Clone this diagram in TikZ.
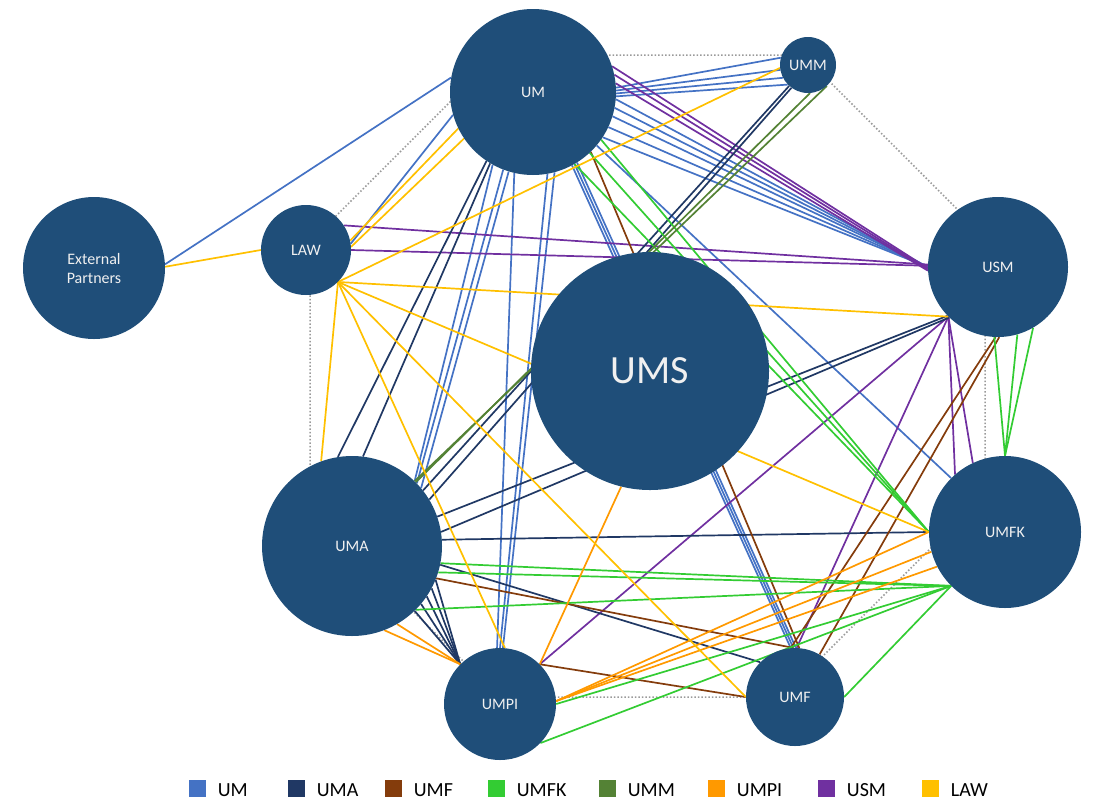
\documentclass[tikz,border=0pt]{standalone}
\usepackage{fontspec}
\setmainfont{Carlito}
\usetikzlibrary{backgrounds}
\definecolor{nodefill}{HTML}{1F4E79}
\definecolor{cUM}{HTML}{4472C4}
\definecolor{cUMA}{HTML}{203864}
\definecolor{cUMF}{HTML}{843C0C}
\definecolor{cUMFK}{HTML}{33CC33}
\definecolor{cUMM}{HTML}{548235}
\definecolor{cUMPI}{HTML}{FF9900}
\definecolor{cUSM}{HTML}{7030A0}
\definecolor{cLAW}{HTML}{FFC000}
\definecolor{frame}{HTML}{9A9A9A}
\begin{document}
\begin{tikzpicture}[x=1pt,y=-1pt,
  campus/.style={circle, fill=nodefill, inner sep=0pt, text=white!94!black,
    font=\fontsize{16}{19}\selectfont, align=center},
  link/.style={line width=1.7pt},
  keybox/.style={minimum width=17pt, minimum height=17pt, inner sep=0pt},
  keytext/.style={anchor=base west, inner sep=0pt, font=\fontsize{20}{24}\selectfont}]
\useasboundingbox (0,0) rectangle (1097,801);

% campuses
\node[campus, minimum size=166pt] (UM)   at (533,92)  {UM};
\node[campus, minimum size=56pt]  (UMM)  at (808,65)  {UMM};
\node[campus, minimum size=142pt] (EP)   at (94,268)  {External\\Partners};
\node[campus, minimum size=90pt]  (LAW)  at (306,250) {LAW};
\node[campus, minimum size=140pt] (USM)  at (998,267) {USM};
\node[campus, minimum size=238pt, font=\fontsize{40}{44}\selectfont] (UMS) at (650,371) {UMS};
\node[campus, minimum size=180pt] (UMA)  at (352,546) {UMA};
\node[campus, minimum size=152pt] (UMFK) at (1005,532) {UMFK};
\node[campus, minimum size=112pt] (UMPI) at (500,704) {UMPI};
\node[campus, minimum size=98pt]  (UMF)  at (795,697) {UMF};

\begin{scope}[on background layer]
  % dotted octagon behind the campuses
  \draw[frame, dotted, line width=1.5pt]
    (497,55) -- (803,55) -- (985,237) -- (985,494) -- (782,697)
    -- (499,697) -- (310,508) -- (310,242) -- cycle;

  % UM links
  \begin{scope}[link, cUM]
    \draw (UM.170) -- (EP.3);
    \draw (UM.196) -- (LAW.8);
    \draw (UM.3) -- (UMM.165);
    \draw (UM.1) -- (UMM.190);
    \draw (UM.-1) -- (UMM.207);
    \draw (UM.-3) -- (UMM.224);
    \draw (UM.-5) -- (USM.180);
    \draw (UM.-11) -- (USM.180);
    \draw (UM.-17) -- (USM.180);
    \draw (UM.-25) -- (USM.180);
    \draw (UM.-33) -- (USM.180);
    \draw (UM.-40) -- (UMFK.135);
    \draw (UM.241) -- (UMA.46);
    \draw (UM.249) -- (UMA.44);
    \draw (UM.253) -- (UMA.40);
    \draw (UM.257) -- (UMPI.93);
    \draw (UM.280) -- (UMPI.90);
    \draw (UM.285) -- (UMPI.87);
    \draw (UM.298) -- (UMF.95);
    \draw (UM.300) -- (UMF.92);
    \draw (UM.302) -- (UMF.89);
  \end{scope}

  % USM links
  \begin{scope}[link, cUSM]
    \draw (UM.18) -- (USM.181);
    \draw (UM.12) -- (USM.182);
    \draw (UM.6) -- (USM.183);
    \draw (LAW.33) -- (USM.178);
    \draw (LAW.0) -- (USM.179);
    \draw (USM.225) -- (UMFK.131);
    \draw (USM.225) -- (UMFK.115);
    \draw (USM.225) -- (UMF.88);
    \draw (USM.225) -- (UMPI.45);
  \end{scope}

  % UMA links
  \begin{scope}[link, cUMA]
    \draw (UMA.99) -- (UM.236);
    \draw (UMA.83) -- (UM.239);
    \draw (UMA.38) -- (UMM.228);
    \draw (UMA.31) -- (UMM.234);
    \draw (UMA.19) -- (USM.224);
    \draw (UMA.9) -- (USM.226);
    \draw (UMA.4) -- (UMFK.180);
    \draw (UMA.-12) -- (UMF.135);
    \draw (UMA.-22) -- (UMPI.135);
    \draw (UMA.-28) -- (UMPI.135);
    \draw (UMA.-34) -- (UMPI.135);
    \draw (UMA.-40) -- (UMPI.135);
    \draw (UMA.-46) -- (UMPI.135);
  \end{scope}

  % UMF links
  \begin{scope}[link, cUMF]
    \draw (UM.-46) -- (UMF.85);
    \draw (USM.268) -- (UMF.95);
    \draw (USM.271) -- (UMF.60);
    \draw (UMA.-21) -- (UMF.92);
    \draw (UMPI.45) -- (UMF.180);
  \end{scope}

  % UMFK links
  \begin{scope}[link, cUMFK]
    \draw (USM.267) -- (UMFK.90);
    \draw (USM.286) -- (UMFK.90);
    \draw (USM.300) -- (UMFK.90);
    \draw (UM.-35) -- (UMFK.180);
    \draw (UM.-47) -- (UMFK.180);
    \draw (UM.-60) -- (UMFK.180);
    \draw (UMA.-11) -- (UMFK.225);
    \draw (UMA.-17) -- (UMFK.225);
    \draw (UMA.-45) -- (UMFK.225);
    \draw (UMPI.0) -- (UMFK.225);
    \draw (UMPI.-44) -- (UMFK.225);
    \draw (UMF.0) -- (UMFK.225);
  \end{scope}

  % UMM links
  \begin{scope}[link, cUMM]
    \draw (UMM.274) -- (UMA.45);
    \draw (UMM.312) -- (UMA.46);
  \end{scope}

  % UMPI links
  \begin{scope}[link, cUMPI]
    \draw (UMA.-69) -- (UMPI.135);
    \draw (UMA.-60) -- (UMPI.135);
    \draw (UMPI.45) -- (UMS.256);
    \draw (UMPI.3) -- (UMFK.180);
    \draw (UMPI.3) -- (UMFK.195);
    \draw (UMPI.3) -- (UMFK.207);
  \end{scope}

  % LAW links
  \begin{scope}[link, cLAW]
    \draw (EP.1) -- (LAW.180);
    \draw (UM.206) -- (LAW.12);
    \draw (UM.214) -- (LAW.4);
    \draw (LAW.315) -- (UMM.186);
    \draw (LAW.315) -- (USM.225);
    \draw (LAW.315) -- (UMFK.180);
    \draw (LAW.315) -- (UMF.180);
    \draw (LAW.315) -- (UMPI.85);
    \draw (LAW.315) -- (UMA.110);
  \end{scope}
\end{scope}

% legend
\foreach \key/\col/\cx in {UM/cUM/197, UMA/cUMA/296, UMF/cUMF/393, UMFK/cUMFK/496,
                           UMM/cUMM/607, UMPI/cUMPI/716, USM/cUSM/826, LAW/cLAW/930}{
  \node[keybox, fill=\col] (box\key) at (\cx,788) {};
  \node[keytext] (lbl\key) at ([xshift=12pt]box\key.east |- 0,796) {\key};
}
\end{tikzpicture}
\end{document}
